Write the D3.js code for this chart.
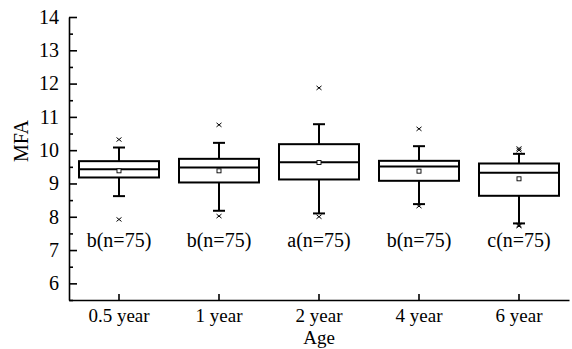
<html>
<head>
  <script src="https://cdn.jsdelivr.net/npm/d3@7"></script>
  <style>
  body { margin: 0; background: #fff; }
  text { font-family: "Liberation Serif", "Times New Roman", serif; fill: #000; }
  </style>
</head>
<body>
<div id="chart"></div>
<script>
var width = 572,
  height = 349;

// age groups and summary stats
var ages = ["0.5 year", "1 year", "2 year", "4 year", "6 year"];
var whiskerLow  = [8.62, 8.18, 8.10, 8.38, 7.80];
var q1          = [9.18, 9.03, 9.12, 9.08, 8.63];
var median      = [9.43, 9.48, 9.64, 9.51, 9.32];
var q3          = [9.67, 9.74, 10.18, 9.68, 9.60];
var whiskerHigh = [10.08, 10.22, 10.78, 10.12, 9.89];
var means       = [9.38, 9.38, 9.63, 9.37, 9.14];
var outliers    = [[10.32, 7.92], [10.76, 8.02], [11.87, 8.00], [10.64, 8.32], [10.05, 10.00, 7.75, 7.72]];
var letters     = ["b", "b", "a", "b", "c"];
var nCounts     = [75, 75, 75, 75, 75];

var majorTicks = [6, 7, 8, 9, 10, 11, 12, 13, 14];
var minorTicks = [5.5, 6.5, 7.5, 8.5, 9.5, 10.5, 11.5, 12.5, 13.5];

var svg = d3.select("#chart").append("svg")
    .attr("width", width)
    .attr("height", height);

var x = d3.scaleBand().domain(ages).range([69, 569]).padding(0);
var y = d3.scaleLinear().domain([5.5, 14]).range([300, 17]);

var boxW = 80, capW = 12;

// axes
svg.append("g")
    .attr("transform", "translate(69,0)")
    .call(d3.axisLeft(y).tickValues(majorTicks).tickSizeInner(-8).tickSizeOuter(0).tickPadding(10).tickFormat(d3.format("d")))
    .selectAll(".tick text").attr("font-size", "20px");
svg.append("g")
    .attr("transform", "translate(69,0)")
    .call(d3.axisLeft(y).tickValues(minorTicks).tickSizeInner(-4).tickSizeOuter(0).tickFormat(""))
    .select(".domain").remove();

svg.append("g")
    .attr("transform", "translate(0,300)")
    .call(d3.axisBottom(x).tickSizeInner(-6).tickSizeOuter(0).tickPadding(9))
    .selectAll(".tick text").attr("font-size", "19px");

svg.selectAll(".domain, .tick line")
    .attr("stroke", "#000")
    .attr("stroke-width", 1.6);
svg.selectAll(".tick text")
    .attr("font-family", "Liberation Serif");

svg.append("text")
    .attr("transform", "translate(28,141) rotate(-90)")
    .attr("text-anchor", "middle")
    .attr("font-size", "20px")
    .text("MFA");

svg.append("text")
    .attr("x", 319)
    .attr("y", 344)
    .attr("text-anchor", "middle")
    .attr("font-size", "19px")
    .text("Age");

// boxes
var g = svg.selectAll("g.box").data(ages).enter().append("g")
    .attr("class", "box")
    .attr("transform", function(d){ return "translate(" + (x(d) + x.bandwidth() / 2) + ",0)"; });

g.append("line")
    .attr("x1", 0).attr("x2", 0)
    .attr("y1", function(d, i){ return y(whiskerHigh[i]); })
    .attr("y2", function(d, i){ return y(q3[i]); });
g.append("line")
    .attr("x1", 0).attr("x2", 0)
    .attr("y1", function(d, i){ return y(q1[i]); })
    .attr("y2", function(d, i){ return y(whiskerLow[i]); });
g.append("line")
    .attr("x1", -capW / 2).attr("x2", capW / 2)
    .attr("y1", function(d, i){ return y(whiskerHigh[i]); })
    .attr("y2", function(d, i){ return y(whiskerHigh[i]); });
g.append("line")
    .attr("x1", -capW / 2).attr("x2", capW / 2)
    .attr("y1", function(d, i){ return y(whiskerLow[i]); })
    .attr("y2", function(d, i){ return y(whiskerLow[i]); });
g.append("rect")
    .attr("x", -boxW / 2)
    .attr("width", boxW)
    .attr("y", function(d, i){ return y(q3[i]); })
    .attr("height", function(d, i){ return y(q1[i]) - y(q3[i]); })
    .attr("fill", "none");
g.append("line")
    .attr("x1", -boxW / 2).attr("x2", boxW / 2)
    .attr("y1", function(d, i){ return y(median[i]); })
    .attr("y2", function(d, i){ return y(median[i]); });
g.selectAll("line, rect")
    .attr("stroke", "#000")
    .attr("stroke-width", 2);

// mean square
g.append("rect")
    .attr("x", -2).attr("width", 4).attr("height", 4)
    .attr("y", function(d, i){ return y(means[i]) - 2; })
    .attr("fill", "#fff")
    .attr("stroke", "#000")
    .attr("stroke-width", 0.9);

// outliers as small crosses
g.each(function(d, i){
  d3.select(this).selectAll("path.out").data(outliers[i]).enter().append("path")
    .attr("class", "out")
    .attr("d", function(v){
      var cy = y(v);
      return "M-2.5," + (cy - 2) + "L2.5," + (cy + 2) + "M-2.5," + (cy + 2) + "L2.5," + (cy - 2);
    })
    .attr("stroke", "#000")
    .attr("stroke-width", 1);
});

// significance letters
g.append("text")
    .attr("y", y(7.1))
    .attr("text-anchor", "middle")
    .attr("font-size", "20px")
    .text(function(d, i){ return letters[i] + "(n=" + nCounts[i] + ")"; });
</script>
</body></html>
